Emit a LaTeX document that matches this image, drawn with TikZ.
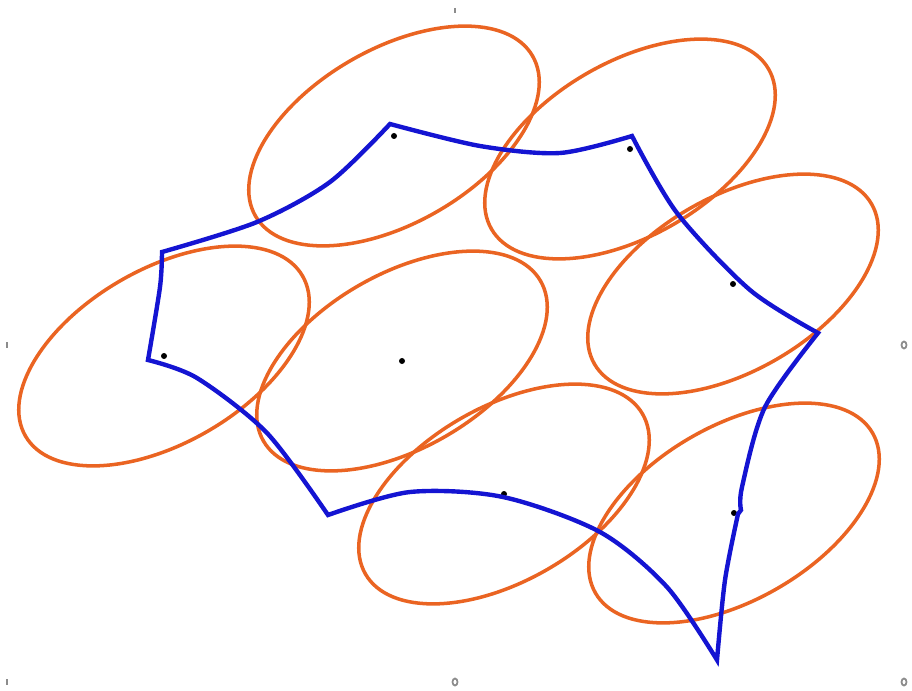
\documentclass[tikz,border=0pt]{standalone}
\definecolor{cellorange}{RGB}{234,100,34}
\definecolor{hullblue}{RGB}{20,20,210}
\begin{document}
\begin{tikzpicture}[
      x=0.01cm, y=-0.01cm,
      cell/.style={draw=cellorange, line width=1pt},
      hull/.style={draw=hullblue, line width=1.25pt, line join=miter},
      site/.style={circle, fill=black, inner sep=0pt, minimum size=0.06cm},
      bordermark/.style={draw=black!45, line width=0.5pt}
    ]
    \useasboundingbox (0,0) rectangle (912,691);
    % ellipses with their centres
    \foreach \i/\x/\y in {1/394/136, 2/630/149, 3/733/284, 4/164/356,
                          5/402/361, 6/504/494, 7/734/513} {
      \node[site] (s\i) at (\x,\y) {};
      \draw[cell, rotate around={30:(s\i)}] (s\i) ellipse [x radius=160, y radius=87];
    }
    % boundary curve
    \draw[hull]
      plot[smooth] coordinates {(162,252) (257,222) (330,182) (390,124)}
      -- plot[smooth] coordinates {(390,124) (480,146) (560,153) (632,136)}
      -- plot[smooth] coordinates {(632,136) (677,213) (750,290) (818,333)}
      -- plot[smooth] coordinates {(818,333) (765,407) (742,487) (741,510)}
      -- (738,514)
      -- plot[smooth] coordinates {(738,514) (725,580) (717,660)}
      -- plot[smooth] coordinates {(717,660) (667,587) (600,532) (503,497) (410,492) (328,515)}
      -- plot[smooth] coordinates {(328,515) (267,433) (197,378) (148,360)}
      -- plot[smooth] coordinates {(148,360) (160,287) (162,252)}
      -- cycle;
    % small marks at the border
    \draw[bordermark] (455,8) -- (455,13);
    \draw[bordermark] (7,342) -- (7,348);
    \draw[bordermark] (7,679) -- (7,685);
    \draw[bordermark] (904,345) ellipse [x radius=2.5, y radius=3.5];
    \draw[bordermark] (455,682) ellipse [x radius=2.5, y radius=3.5];
    \draw[bordermark] (904,682) ellipse [x radius=2.5, y radius=3.5];
  \end{tikzpicture}
\end{document}
